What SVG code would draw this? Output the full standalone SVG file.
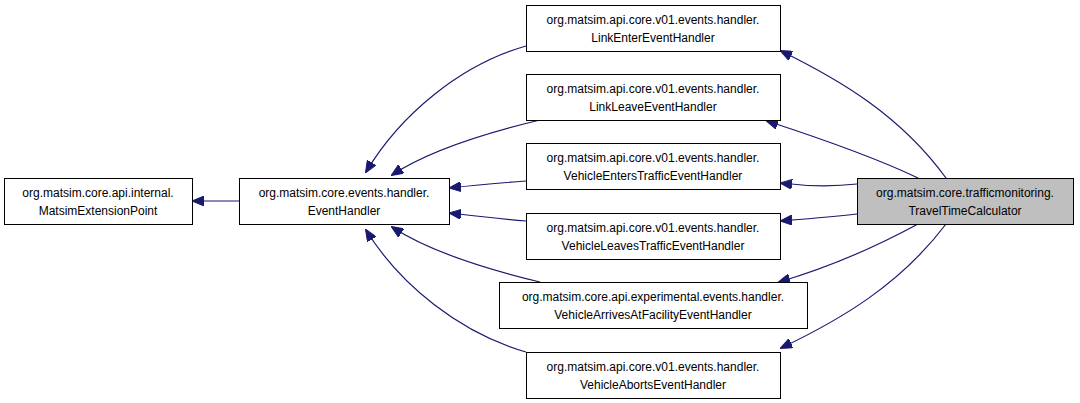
<svg xmlns="http://www.w3.org/2000/svg" width="1080" height="403" viewBox="0 0 1080 403">
<style>
.n{fill:#fff;stroke:#000;stroke-width:1}
.g{fill:#bfbfbf;stroke:#000;stroke-width:1}
text{font-family:"Liberation Sans",Arial,sans-serif;font-size:12px;text-anchor:middle;fill:#000}
.e{fill:none;stroke:#191970;stroke-width:1.2;marker-end:url(#a)}
</style>
<defs>
<marker id="a" markerWidth="12" markerHeight="10" refX="11" refY="5" orient="auto" markerUnits="userSpaceOnUse">
<path d="M0,0 L12,5 L0,10 Z" fill="#191970" stroke="#191970"/>
</marker>
</defs>
<rect width="1080" height="403" fill="#fff"/>
<g id="edges">
<path class="e" d="M239,201 H193"/>
<path class="e" d="M526,46 C460,65 400,115 366,172"/>
<path class="e" d="M540,120 C490,132 430,150 392,175"/>
<path class="e" d="M526,181 C500,183 475,185 450,188"/>
<path class="e" d="M526,221 C500,219 475,216 450,213"/>
<path class="e" d="M540,282 C490,270 430,252 392,227"/>
<path class="e" d="M526,352 C460,333 400,285 366,230"/>
<path class="e" d="M946,178 C900,115 840,80 781,51"/>
<path class="e" d="M918,178 C870,155 810,135 767,121"/>
<path class="e" d="M857,184 C830,187 805,186 781,183"/>
<path class="e" d="M857,214 C830,217 805,219 781,221"/>
<path class="e" d="M918,224 C870,250 820,270 779,282"/>
<path class="e" d="M946,224 C900,285 840,320 781,348"/>
</g>
<g id="MatsimExtensionPoint"><rect class="n" x="4.5" y="178.5" width="188" height="46"/><text x="98" y="197">org.matsim.core.api.internal.</text><text x="98" y="215">MatsimExtensionPoint</text></g>
<g id="EventHandler"><rect class="n" x="239.5" y="178.5" width="210" height="46"/><text x="344" y="197">org.matsim.core.events.handler.</text><text x="344" y="215">EventHandler</text></g>
<g id="LinkEnter"><rect class="n" x="526.5" y="5.5" width="254" height="46"/><text x="653" y="24">org.matsim.api.core.v01.events.handler.</text><text x="653" y="42">LinkEnterEventHandler</text></g>
<g id="LinkLeave"><rect class="n" x="526.5" y="74.5" width="254" height="46"/><text x="653" y="93">org.matsim.api.core.v01.events.handler.</text><text x="653" y="111">LinkLeaveEventHandler</text></g>
<g id="VehicleEnters"><rect class="n" x="526.5" y="143.5" width="254" height="46"/><text x="653" y="162">org.matsim.api.core.v01.events.handler.</text><text x="653" y="180">VehicleEntersTrafficEventHandler</text></g>
<g id="VehicleLeaves"><rect class="n" x="526.5" y="213.5" width="254" height="46"/><text x="653" y="232">org.matsim.api.core.v01.events.handler.</text><text x="653" y="250">VehicleLeavesTrafficEventHandler</text></g>
<g id="VehicleArrives"><rect class="n" x="499.5" y="282.5" width="308" height="46"/><text x="653" y="301">org.matsim.core.api.experimental.events.handler.</text><text x="653" y="319">VehicleArrivesAtFacilityEventHandler</text></g>
<g id="VehicleAborts"><rect class="n" x="526.5" y="352.5" width="254" height="46"/><text x="653" y="371">org.matsim.api.core.v01.events.handler.</text><text x="653" y="389">VehicleAbortsEventHandler</text></g>
<g id="TravelTimeCalculator"><rect class="g" x="857.5" y="178.5" width="216" height="46"/><text x="965" y="197">org.matsim.core.trafficmonitoring.</text><text x="965" y="215">TravelTimeCalculator</text></g>
</svg>
